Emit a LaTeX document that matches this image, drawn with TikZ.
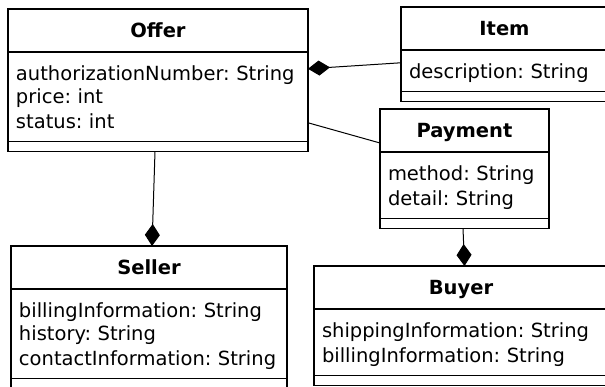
\documentclass[tikz,border=0pt]{standalone}
\usepackage{fontspec}
\setmainfont{DejaVu Sans}
\usetikzlibrary{positioning, arrows.meta}

\begin{document}
\begin{tikzpicture}[x=1pt, y=-1pt, line width=1.2pt, font=\fontsize{19.5}{23.5}\selectfont\frenchspacing,
  class name/.style={draw, outer sep=0pt, inner sep=0pt, minimum height=43pt, text height=14pt, text depth=0pt, font=\fontsize{19.5}{23.5}\selectfont\bfseries},
  class attrs/.style={draw, outer sep=0pt, align=left, inner xsep=8pt, inner ysep=9pt, below=0pt of #1,
    execute at begin node={\rule[-4pt]{0pt}{23.5pt}}, execute at end node={\rule[-4pt]{0pt}{23.5pt}}},
  class ops/.style={draw, outer sep=0pt, inner sep=0pt, minimum height=10pt, below=0pt of #1},
  link/.style={line width=1pt},
  composition/.style={link, -{Diamond[length=22pt, width=15pt]}}]
\useasboundingbox (0,0) rectangle (605,387);

\node[class name, minimum width=300pt, anchor=north west] (offer) at (8,9) {Offer};
\node[class attrs=offer, text width=284pt] (offer attrs) {authorizationNumber: String\\price: int\\status: int};
\node[class ops=offer attrs, minimum width=300pt] (offer ops) {};

\node[class name, minimum width=207pt, anchor=north west] (item) at (401,7) {Item};
\node[class attrs=item, text width=191pt] (item attrs) {description: String};
\node[class ops=item attrs, minimum width=207pt] (item ops) {};

\node[class name, minimum width=169pt, anchor=north west] (payment) at (380,109) {Payment};
\node[class attrs=payment, text width=153pt] (payment attrs) {method: String\\detail: String};
\node[class ops=payment attrs, minimum width=169pt] (payment ops) {};

\node[class name, minimum width=276pt, anchor=north west] (seller) at (11,246) {Seller};
\node[class attrs=seller, text width=260pt] (seller attrs) {billingInformation: String\\history: String\\contactInformation: String};
\node[class ops=seller attrs, minimum width=276pt] (seller ops) {};

\node[class name, minimum width=294pt, anchor=north west] (buyer) at (314,266) {Buyer};
\node[class attrs=buyer, text width=278pt] (buyer attrs) {shippingInformation: String\\billingInformation: String};
\node[class ops=buyer attrs, minimum width=294pt] (buyer ops) {};

\draw[composition] ([yshift=8pt]item attrs.west) -- ([yshift=28pt]offer attrs.east);
\draw[link] ([yshift=-26pt]offer attrs.east) -- ([yshift=-12.5pt]payment.west);
\draw[composition] ([xshift=-3pt]offer ops.south) -- ([xshift=3pt]seller.north);
\draw[composition] ([xshift=-1.5pt]payment ops.south) -- ([xshift=3.5pt]buyer.north);

\end{tikzpicture}
\end{document}
